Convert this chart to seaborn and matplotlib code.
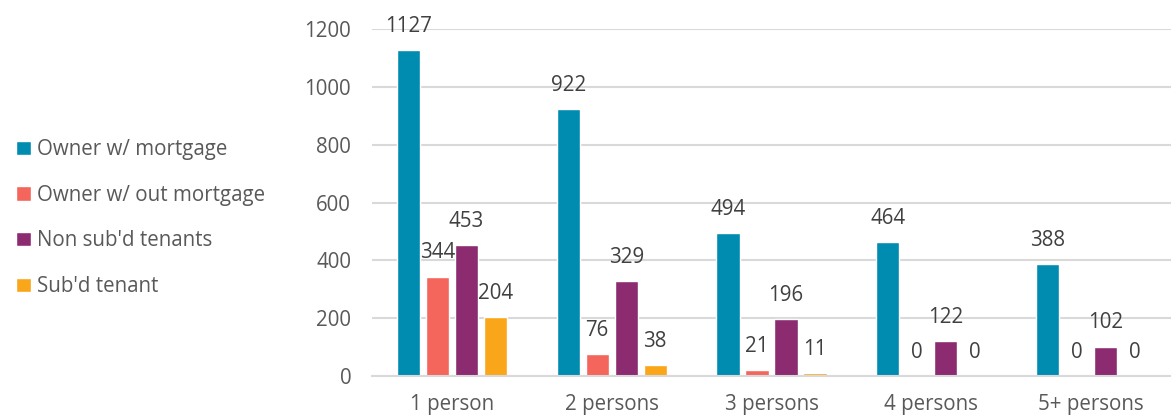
# Household size by tenure, grouped bar chart
import matplotlib
matplotlib.use("Agg")
import matplotlib.pyplot as plt
import pandas as pd
import seaborn as sns

# Data
sizes = ["1 person", "2 persons", "3 persons", "4 persons", "5+ persons"]
tenures = ["Owner w/ mortgage", "Owner w/ out mortgage", "Non sub'd tenants", "Sub'd tenant"]
owner_mortgage = [1127, 922, 494, 464, 388]
owner_no_mortgage = [344, 76, 21, 0, 0]
non_subd_tenants = [453, 329, 196, 122, 102]
subd_tenant = [204, 38, 11, 0, 0]
colors = ["#008BB0", "#F4665C", "#8C2B70", "#FAA61A"]

rows = []
for tenure, vals in zip(tenures, [owner_mortgage, owner_no_mortgage, non_subd_tenants, subd_tenant]):
    for size, v in zip(sizes, vals):
        rows.append({"size": size, "tenure": tenure, "count": v})
df = pd.DataFrame(rows)

sns.set_style("white")
plt.rcParams["font.family"] = ["Open Sans", "DejaVu Sans"]
fs = 14.8

fig = plt.figure(figsize=(11.71, 4.17), dpi=100)
ax = fig.add_axes([0.3177, 0.0983, 0.6823, 0.832])

sns.barplot(data=df, x="size", y="count", hue="tenure", order=sizes, hue_order=tenures,
            palette=colors, width=0.725, gap=0.2, saturation=1, ax=ax)

for cont in ax.containers:
    ax.bar_label(cont, padding=9.5, fontsize=fs, color="#404040")

ax.set_ylim(0, 1200)
ax.set_yticks(range(0, 1201, 200))
ax.set_xlim(-0.5, 4.5)
ax.grid(axis="y", color="#D9D9D9", linewidth=1.5)
ax.set_axisbelow(True)
for s in ["top", "right", "left"]:
    ax.spines[s].set_visible(False)
ax.spines["bottom"].set_color("#D9D9D9")
ax.spines["bottom"].set_linewidth(1.5)
ax.tick_params(axis="y", length=0, pad=15, labelsize=fs, labelcolor="#595959")
ax.tick_params(axis="x", length=0, pad=13, labelsize=fs, labelcolor="#595959")
ax.set_xlabel("")
ax.set_ylabel("")

handles, labels = ax.get_legend_handles_labels()
ax.legend(handles, labels, loc="center left", bbox_to_anchor=(-0.002, 0.477),
          bbox_transform=fig.transFigure, frameon=False, fontsize=fs,
          labelcolor="#595959", handlelength=0.7, handleheight=0.7,
          handletextpad=0.3, labelspacing=1.2)

fig.savefig("out.png", dpi=100)
